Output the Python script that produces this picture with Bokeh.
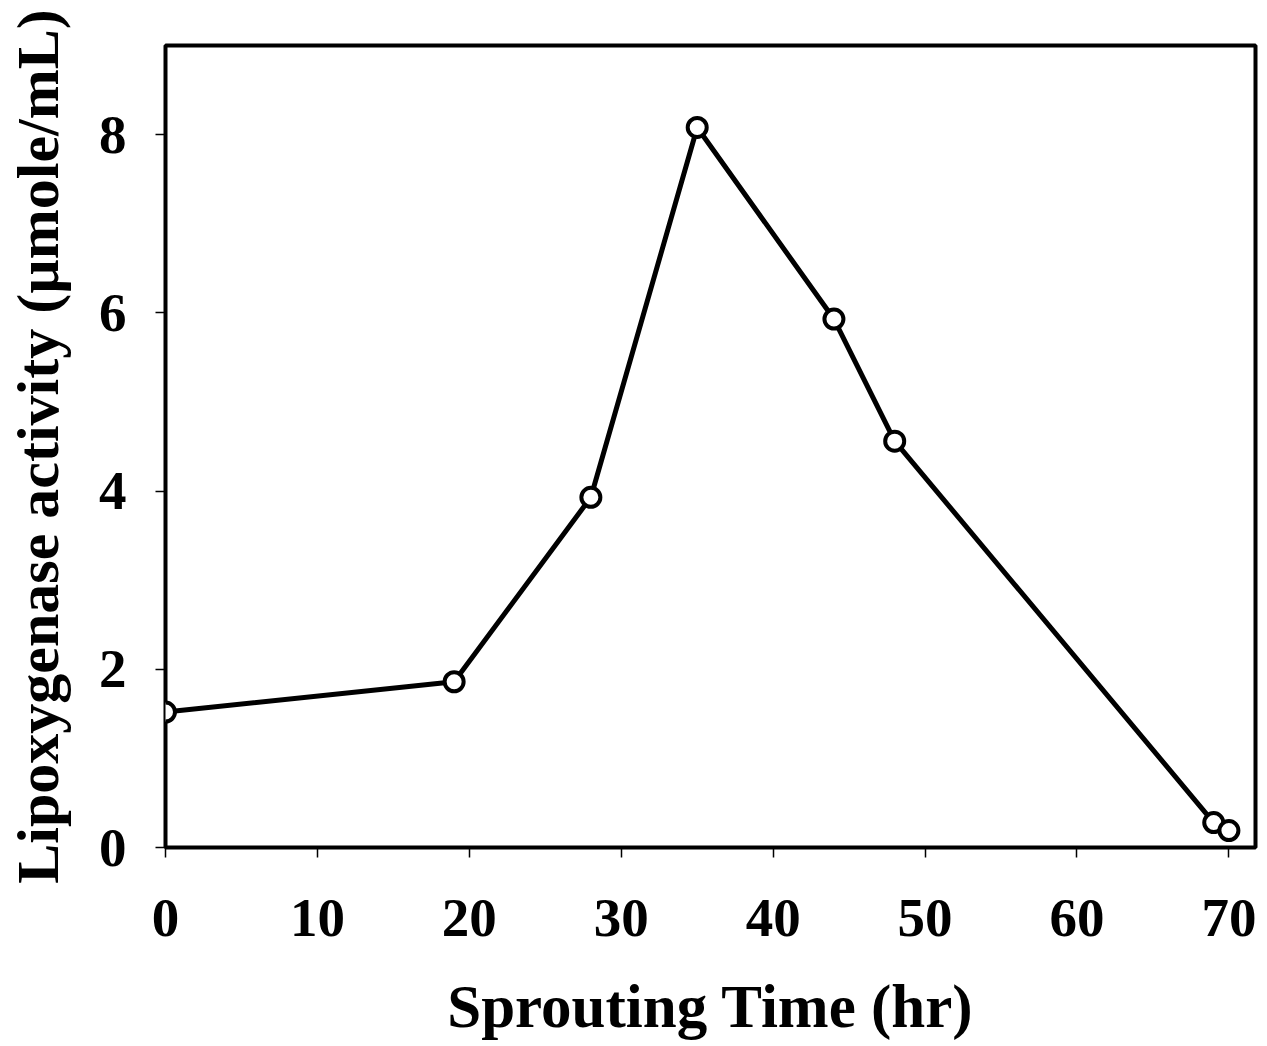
from bokeh.plotting import figure
from bokeh.models import Range1d, FixedTicker
from bokeh.embed import file_html
from bokeh.resources import INLINE

# data
sprouting_time = [0, 19, 28, 35, 44, 48, 69, 70]
lox_activity = [1.52, 1.86, 3.93, 8.08, 5.93, 4.56, 0.28, 0.19]
x_ticks = [0, 10, 20, 30, 40, 50, 60, 70]
y_ticks = [0, 2, 4, 6, 8]
x_title = "Sprouting Time (hr)"
y_title = "Lipoxygenase activity (\u00b5mole/mL)"

FONT = "Liberation Serif"

p = figure(frame_width=1090, frame_height=802,
           x_range=Range1d(0, 71.75), y_range=Range1d(0, 9),
           output_backend="svg", toolbar_location=None,
           min_border_left=165, min_border_top=45, min_border_right=4,
           min_border_bottom=190)

p.background_fill_color = "white"
p.border_fill_color = "white"
p.outline_line_color = "black"
p.outline_line_width = 4
p.xgrid.visible = False
p.ygrid.visible = False

p.xaxis.ticker = FixedTicker(ticks=x_ticks)
p.yaxis.ticker = FixedTicker(ticks=y_ticks)

for ax in (p.xaxis[0], p.yaxis[0]):
    ax.axis_line_color = None
    ax.major_tick_in = 0
    ax.major_tick_out = 10
    ax.major_tick_line_width = 1.5
    ax.major_tick_line_color = "black"
    ax.minor_tick_line_color = None
    ax.major_label_text_font = FONT
    ax.major_label_text_font_style = "bold"
    ax.major_label_text_font_size = "55px"
    ax.major_label_text_color = "black"
    ax.axis_label_text_font = FONT
    ax.axis_label_text_font_style = "bold"
    ax.axis_label_text_color = "black"

p.xaxis.major_label_standoff = 42
p.yaxis.major_label_standoff = 29
p.xaxis.axis_label = x_title
p.xaxis.axis_label_text_font_size = "61px"
p.xaxis.axis_label_standoff = 34
p.yaxis.axis_label = y_title
p.yaxis.axis_label_text_font_size = "60px"
p.yaxis.axis_label_standoff = 25

p.line(sprouting_time, lox_activity, line_color="black", line_width=5)
p.scatter(sprouting_time, lox_activity, marker="circle", size=19,
          fill_color="white", line_color="black", line_width=4)

open("out.html", "w").write(file_html(p, INLINE))
